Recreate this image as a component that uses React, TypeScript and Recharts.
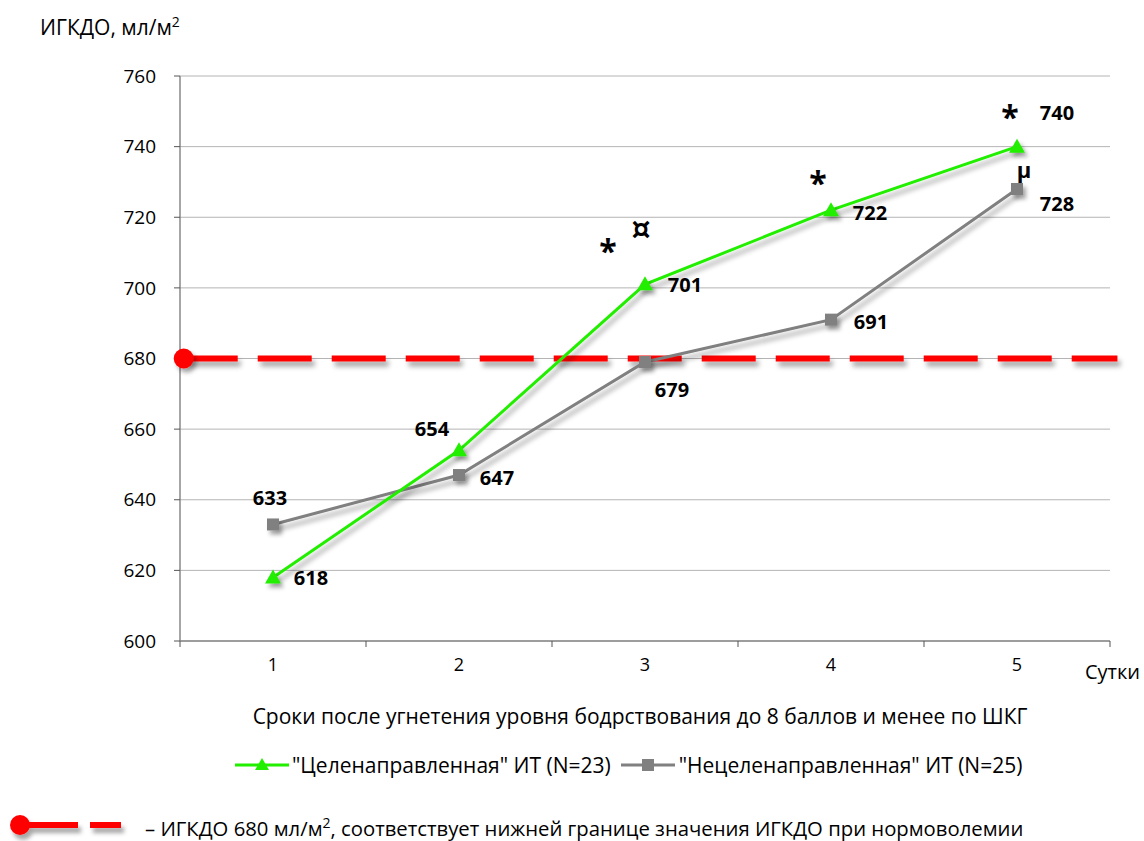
import React from "react";
import {
  LineChart,
  Line,
  XAxis,
  YAxis,
  CartesianGrid,
  ReferenceLine,
  ReferenceDot,
  LabelList,
} from "recharts";

const days = [1, 2, 3, 4, 5];
const targeted = [618, 654, 701, 722, 740];
const untargeted = [633, 647, 679, 691, 728];
const yTicks = [600, 620, 640, 660, 680, 700, 720, 740, 760];
const xBounds = [0.5, 1.5, 2.5, 3.5, 4.5, 5.5];
const normLevel = 680;
const normSpan = [0.52, 5.54];
const seriesNames = [
  '"Целенаправленная" ИТ (N=23)',
  '"Нецеленаправленная" ИТ (N=25)',
];
const targetedMarks = [[], [], ["*", "¤"], ["*"], ["*"]];
const untargetedMarks = [[], [], [], [], ["μ"]];

const data = days.map((d, i) => ({
  day: d,
  targeted: targeted[i],
  untargeted: untargeted[i],
}));

const FONT = "'Open Sans', 'Noto Sans', sans-serif";
const GREEN = "#22ee00";
const GRAY = "#808080";
const RED = "#ff0000";
const HALF_BAND = 93;

// label offsets from each point (px)
const targetedOffsets = [[38, 0], [-27, -22], [40, 0], [39, 2], [40, -34]];
const untargetedOffsets = [[-3, -27], [38, 2], [27, 27], [40, 2], [40, 14]];
const targetedMarkOffsets = [[], [], [[-37, -44], [-4, -56]], [[-13, -38]], [[-7, -40]]];
const untargetedMarkOffsets = [[], [], [], [], [[7, -20]]];

function makeLabel(offsets: number[][], marks: string[][], markOffsets: number[][][]) {
  return (props: any) => {
    const { x, y, value, index } = props;
    const [dx, dy] = offsets[index];
    return (
      <g>
        <text
          x={x + dx}
          y={y + dy}
          textAnchor="middle"
          dominantBaseline="central"
          fontFamily={FONT}
          fontWeight={700}
          fontSize={20}
          fill="#000"
        >
          {value}
        </text>
        {marks[index].map((m, j) => (
          <text
            key={j}
            x={x + markOffsets[index][j][0]}
            y={y + markOffsets[index][j][1] + (m === "*" ? 10 : 0)}
            textAnchor="middle"
            dominantBaseline="central"
            fontFamily={m === "¤" ? "'DejaVu Sans', sans-serif" : FONT}
            fontWeight={700}
            fontSize={m === "*" ? 32 : m === "¤" ? 30 : 22}
            fill="#000"
          >
            {m}
          </text>
        ))}
      </g>
    );
  };
}

function TriangleDot(props: any) {
  const { cx, cy, index } = props;
  if (cx == null || cy == null) return null;
  return (
    <path
      key={index}
      d={`M${cx},${cy - 8} L${cx + 8},${cy + 6} L${cx - 8},${cy + 6} Z`}
      fill={GREEN}
      filter="url(#shadowDot)"
    />
  );
}

function SquareDot(props: any) {
  const { cx, cy, index } = props;
  if (cx == null || cy == null) return null;
  return (
    <rect
      key={index}
      x={cx - 6}
      y={cy - 6}
      width={12}
      height={12}
      fill={GRAY}
      filter="url(#shadowDot)"
    />
  );
}

function DayTick(props: any) {
  const { x, y, payload } = props;
  if (payload.value >= 5.5) return null;
  return (
    <text
      x={x + HALF_BAND}
      y={y + 22}
      textAnchor="middle"
      fontFamily={FONT}
      fontSize={18}
      fill="#000"
    >
      {payload.value + 0.5}
    </text>
  );
}

export default function App() {
  return (
    <div
      style={{
        position: "absolute",
        left: 0,
        top: 0,
        width: 1144,
        height: 841,
        background: "#fff",
        fontFamily: FONT,
      }}
    >
      <div style={{ position: "absolute", left: 40, top: 12, fontSize: 21, color: "#000" }}>
        ИГКДО, мл/м<sup style={{ fontSize: 14 }}>2</sup>
      </div>
      <LineChart
        width={1144}
        height={841}
        data={data}
        margin={{ top: 76, right: 34, bottom: 170, left: 100 }}
      >
        <defs>
          <filter
            id="shadow"
            filterUnits="userSpaceOnUse"
            x="0"
            y="0"
            width="1144"
            height="841"
          >
            <feDropShadow dx="3" dy="5" stdDeviation="2.5" floodColor="#000" floodOpacity="0.35" />
          </filter>
          <filter id="shadowDot" x="-50%" y="-50%" width="220%" height="220%">
            <feDropShadow dx="3" dy="4" stdDeviation="2" floodColor="#000" floodOpacity="0.35" />
          </filter>
        </defs>
        <CartesianGrid vertical={false} stroke="#b4b4b4" strokeWidth={1} />
        <XAxis
          type="number"
          dataKey="day"
          domain={[0.5, 5.5]}
          ticks={xBounds}
          interval={0}
          height={30}
          tick={<DayTick />}
          tickSize={6}
          axisLine={{ stroke: "#888", strokeWidth: 1.5 }}
          tickLine={{ stroke: "#555" }}
        />
        <YAxis
          domain={[600, 760]}
          ticks={yTicks}
          interval={0}
          width={80}
          tickSize={6}
          tickMargin={18}
          axisLine={{ stroke: "#888", strokeWidth: 1.5 }}
          tickLine={{ stroke: "#555" }}
          tick={{ fill: "#000", fontSize: 19, fontFamily: FONT }}
        />
        <ReferenceLine
          segment={[
            { x: normSpan[0], y: normLevel },
            { x: normSpan[1], y: normLevel },
          ]}
          ifOverflow="visible"
          stroke={RED}
          strokeWidth={6}
          strokeDasharray="54 20"
          filter="url(#shadow)"
        />
        <ReferenceDot
          x={normSpan[0]}
          y={normLevel}
          r={10}
          fill={RED}
          stroke="none"
          ifOverflow="visible"
          filter="url(#shadowDot)"
        />
        <Line
          dataKey="untargeted"
          name={seriesNames[1]}
          stroke={GRAY}
          strokeWidth={3}
          dot={<SquareDot />}
          activeDot={false}
          isAnimationActive={false}
          style={{ filter: "url(#shadow)" }}
        >
          <LabelList
            dataKey="untargeted"
            content={makeLabel(untargetedOffsets, untargetedMarks, untargetedMarkOffsets)}
          />
        </Line>
        <Line
          dataKey="targeted"
          name={seriesNames[0]}
          stroke={GREEN}
          strokeWidth={3}
          dot={<TriangleDot />}
          activeDot={false}
          isAnimationActive={false}
          style={{ filter: "url(#shadow)" }}
        >
          <LabelList
            dataKey="targeted"
            content={makeLabel(targetedOffsets, targetedMarks, targetedMarkOffsets)}
          />
        </Line>
      </LineChart>
      <div style={{ position: "absolute", left: 1085, top: 658, fontSize: 20 }}>Сутки</div>
      <div
        style={{
          position: "absolute",
          left: 0,
          width: 1280,
          top: 702,
          textAlign: "center",
          fontSize: 21,
        }}
      >
        Сроки после угнетения уровня бодрствования до 8 баллов и менее по ШКГ
      </div>
      <div
        style={{
          position: "absolute",
          left: 235,
          top: 751,
          display: "flex",
          alignItems: "center",
          fontSize: 21,
          whiteSpace: "nowrap",
        }}
      >
        <svg width={54} height={20}>
          <line x1={0} y1={10} x2={54} y2={10} stroke={GREEN} strokeWidth={3} />
          <path d="M27,3 L34,15 L20,15 Z" fill={GREEN} />
        </svg>
        <span style={{ marginLeft: 3, marginRight: 10 }}>{seriesNames[0]}</span>
        <svg width={54} height={20}>
          <line x1={0} y1={10} x2={54} y2={10} stroke={GRAY} strokeWidth={3} />
          <rect x={21} y={4} width={12} height={12} fill={GRAY} />
        </svg>
        <span style={{ marginLeft: 4 }}>{seriesNames[1]}</span>
      </div>
      <div
        style={{
          position: "absolute",
          left: 8,
          top: 812,
          display: "flex",
          alignItems: "center",
          fontSize: 20.3,
          whiteSpace: "nowrap",
        }}
      >
        <svg width={130} height={30}>
          <defs>
            <filter id="shadowNote" x="-20%" y="-50%" width="140%" height="220%">
              <feDropShadow dx="3" dy="5" stdDeviation="2" floodColor="#000" floodOpacity="0.35" />
            </filter>
          </defs>
          <g filter="url(#shadowNote)">
            <circle cx={12} cy={13} r={10} fill={RED} />
            <line x1={12} y1={13} x2={70} y2={13} stroke={RED} strokeWidth={6} />
            <line x1={82} y1={13} x2={113} y2={13} stroke={RED} strokeWidth={6} />
          </g>
        </svg>
        <span style={{ marginLeft: 7 }}>
          – ИГКДО 680 мл/м<sup style={{ fontSize: 14 }}>2</sup>, соответствует нижней границе
          значения ИГКДО при нормоволемии
        </span>
      </div>
    </div>
  );
}
